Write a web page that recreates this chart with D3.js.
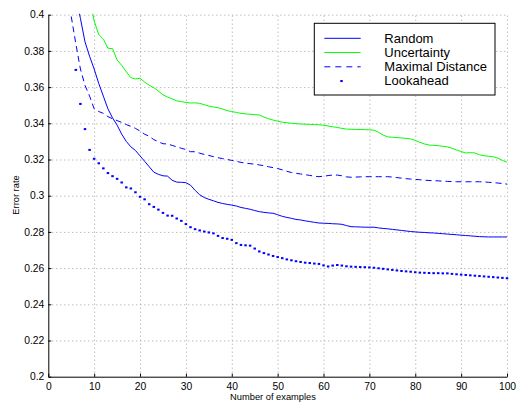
<html>
<meta charset="utf-8" />
<head>
<title>Error rate vs number of examples</title>
<script src="https://cdn.jsdelivr.net/npm/d3@7/dist/d3.min.js"></script>
<style>
	body { margin: 0; background: #fff; }
	svg text { font-family: "Liberation Sans", Arial, Helvetica, sans-serif; fill: #000; }
</style>
<script>
// x ticks / y ticks
const xTicks = [0, 10, 20, 30, 40, 50, 60, 70, 80, 90, 100];
const yTicks = [0.2, 0.22, 0.24, 0.26, 0.28, 0.3, 0.32, 0.34, 0.36, 0.38, 0.4];

// series names (legend order)
const seriesNames = ['Random', 'Uncertainty', 'Maximal Distance', 'Lookahead'];

// Random : x = 6 .. 100
const randomStart = 6;
const randomValues = [
	0.41, 0.398, 0.385, 0.377, 0.370, 0.362, 0.355, 0.348, 0.343, 0.339,
	0.334, 0.330, 0.327, 0.325, 0.322, 0.319, 0.316, 0.313, 0.3118, 0.311,
	0.3108, 0.3085, 0.3075, 0.3074, 0.3072, 0.3058, 0.303, 0.3005, 0.299, 0.298,
	0.2972, 0.2963, 0.2957, 0.2952, 0.2948, 0.2943, 0.2935, 0.293, 0.2925, 0.2918,
	0.2912, 0.2908, 0.2905, 0.2903, 0.2895, 0.2886, 0.288, 0.2875, 0.2869, 0.2866,
	0.2861, 0.2857, 0.2853, 0.2849, 0.2848, 0.2847, 0.2845, 0.2844, 0.2842, 0.2835,
	0.2829, 0.2828, 0.2827, 0.2826, 0.2826, 0.2826, 0.2822, 0.2819, 0.2817, 0.2814,
	0.2811, 0.2808, 0.2805, 0.2802, 0.28, 0.2798, 0.2797, 0.2795, 0.2794, 0.2792,
	0.279, 0.2788, 0.2786, 0.2784, 0.2782, 0.278, 0.2778, 0.2776, 0.2774, 0.2773,
	0.2772, 0.2772, 0.2772, 0.2772, 0.2772
];

// Uncertainty : x = 9 .. 100
const uncertaintyStart = 9;
const uncertaintyValues = [
	0.41, 0.3965, 0.389, 0.3865, 0.3815, 0.3812, 0.375, 0.372, 0.3685, 0.3652,
	0.3645, 0.3649, 0.3628, 0.361, 0.3597, 0.3578, 0.3558, 0.3545, 0.3535, 0.3524,
	0.352, 0.3515, 0.3512, 0.3513, 0.351, 0.3503, 0.3495, 0.349, 0.3486, 0.3479,
	0.347, 0.3465, 0.346, 0.3455, 0.3452, 0.345, 0.3448, 0.3446, 0.3435, 0.3425,
	0.3418, 0.3412, 0.3406, 0.3403, 0.34, 0.3398, 0.3396, 0.3395, 0.3394, 0.3393,
	0.3392, 0.3389, 0.3385, 0.3381, 0.3377, 0.3372, 0.3368, 0.3367, 0.3366, 0.3366,
	0.3365, 0.3364, 0.3362, 0.335, 0.3335, 0.3325, 0.3323, 0.3321, 0.3319, 0.3317,
	0.3314, 0.3305, 0.3295, 0.3286, 0.328, 0.3278, 0.3276, 0.3273, 0.327, 0.3262,
	0.3253, 0.3244, 0.3236, 0.3238, 0.3236, 0.3226, 0.3221, 0.3218, 0.3215, 0.3208,
	0.3195, 0.3185
];

// Maximal Distance : x = 5 .. 100
const maxDistStart = 5;
const maxDistValues = [
	0.399, 0.384, 0.370, 0.361, 0.355, 0.348, 0.3465, 0.3455, 0.3437, 0.3425,
	0.3415, 0.3405, 0.3393, 0.3383, 0.3372, 0.3357, 0.334, 0.3328, 0.331, 0.3298,
	0.3287, 0.3286, 0.3278, 0.327, 0.3262, 0.3255, 0.3243, 0.3243, 0.3235, 0.3228,
	0.3222, 0.3216, 0.321, 0.3205, 0.32, 0.3195, 0.319, 0.3184, 0.318, 0.3177,
	0.3174, 0.317, 0.3166, 0.316, 0.3155, 0.315, 0.3143, 0.3135, 0.3128, 0.3124,
	0.312, 0.3116, 0.3112, 0.3108, 0.3105, 0.3108, 0.3111, 0.3114, 0.3114, 0.311,
	0.3104, 0.3102, 0.3103, 0.3104, 0.3105, 0.3105, 0.3105, 0.3105, 0.3105, 0.3105,
	0.3103, 0.31, 0.3097, 0.3094, 0.3092, 0.309, 0.3088, 0.3086, 0.3084, 0.3083,
	0.3082, 0.308, 0.3079, 0.3078, 0.3077, 0.3077, 0.3077, 0.3077, 0.3077, 0.3077,
	0.3076, 0.3074, 0.3072, 0.307, 0.3067, 0.3064
];

// Lookahead : x = 6 .. 100
const lookaheadStart = 6;
const lookaheadValues = [
	0.3695, 0.3507, 0.3368, 0.3253, 0.3204, 0.3179, 0.3151, 0.3125, 0.3108, 0.3093,
	0.3073, 0.3046, 0.304, 0.3019, 0.2994, 0.298, 0.2953, 0.2938, 0.2923, 0.2905,
	0.289, 0.2889, 0.2874, 0.2861, 0.2843, 0.2826, 0.2815, 0.2808, 0.2802, 0.2797,
	0.2792, 0.2778, 0.2766, 0.2762, 0.2756, 0.2738, 0.2728, 0.2726, 0.2724, 0.2708,
	0.2692, 0.2683, 0.2675, 0.2667, 0.2661, 0.2655, 0.2648, 0.2643, 0.2638, 0.2634,
	0.263, 0.2628, 0.2625, 0.2623, 0.2615, 0.2609, 0.2614, 0.2617, 0.2614, 0.261,
	0.2608, 0.2607, 0.2606, 0.2605, 0.2604, 0.2602, 0.2599, 0.2596, 0.2593, 0.259,
	0.2587, 0.2584, 0.2582, 0.258, 0.2577, 0.2575, 0.2574, 0.2573, 0.2572, 0.2572,
	0.2571, 0.2571, 0.2568, 0.2566, 0.2564, 0.2562, 0.256, 0.2558, 0.2556, 0.2554,
	0.2552, 0.255, 0.2548, 0.2546, 0.2544
];

window.onload = function() {
	let left = 48.3, right = 507, top = 14.7, bottom = 376.7;
	let svg = d3.select('svg');

	let xScale = d3.scaleLinear().domain([0, 100]).range([left, right]);
	let yScale = d3.scaleLinear().domain([0.2, 0.4]).range([bottom, top]);

	// (value array, start x) -> [{x, y}]
	function toPoints(values, start) {
		return values.map((v, i) => { return { x: start + i, y: v }; });
	}

	// 점선 그리드
	svg.append('g')
	.attr('transform', 'translate(0,' + bottom + ')')
	.call(d3.axisBottom(xScale).tickValues(xTicks.slice(1)).tickSize(-(bottom - top)).tickFormat(''))
	.call((g) => { g.select('.domain').remove(); })
	.selectAll('line')
	.attr('stroke', '#a0a0a0').attr('stroke-dasharray', '1,3');

	svg.append('g')
	.attr('transform', 'translate(' + left + ',0)')
	.call(d3.axisLeft(yScale).tickValues(yTicks.slice(1)).tickSize(-(right - left)).tickFormat(''))
	.call((g) => { g.select('.domain').remove(); })
	.selectAll('line')
	.attr('stroke', '#a0a0a0').attr('stroke-dasharray', '1,3');

	// 축
	let xAxis = svg.append('g')
	.attr('transform', 'translate(0,' + bottom + ')')
	.call(d3.axisBottom(xScale).tickValues(xTicks).tickSizeInner(-3).tickSizeOuter(0).tickPadding(5.5));
	xAxis.selectAll('text').style('font-size', '10.3px');

	let yAxis = svg.append('g')
	.attr('transform', 'translate(' + left + ',0)')
	.call(d3.axisLeft(yScale).tickValues(yTicks).tickSizeInner(-3).tickSizeOuter(0).tickPadding(4)
		.tickFormat((d) => { return d3.format('')(+d.toFixed(2)); }));
	yAxis.selectAll('text').style('font-size', '10.3px');

	svg.selectAll('.domain, .tick line').filter(function() { return !d3.select(this).attr('stroke-dasharray'); })
	.attr('stroke', '#000');

	// clip
	svg.append('clipPath').attr('id', 'plotClip')
	.append('rect').attr('x', left).attr('y', top - 1).attr('width', right - left + 2).attr('height', bottom - top + 1);

	let plot = svg.append('g').attr('clip-path', 'url(#plotClip)');

	let line = d3.line()
	.x((d) => { return xScale(d.x); })
	.y((d) => { return yScale(d.y); });

	plot.append('path')
	.attr('d', line(toPoints(randomValues, randomStart)))
	.attr('fill', 'none').attr('stroke', '#0000ff').attr('stroke-width', 1);

	plot.append('path')
	.attr('d', line(toPoints(uncertaintyValues, uncertaintyStart)))
	.attr('fill', 'none').attr('stroke', '#00ff00').attr('stroke-width', 1);

	plot.append('path')
	.attr('d', line(toPoints(maxDistValues, maxDistStart)))
	.attr('fill', 'none').attr('stroke', '#0000ff').attr('stroke-width', 1)
	.attr('stroke-dasharray', '6,4');

	plot.selectAll('rect.lookahead')
	.data(toPoints(lookaheadValues, lookaheadStart)).enter()
	.append('rect')
	.attr('class', 'lookahead')
	.attr('x', (d) => { return xScale(d.x) - 1.25; })
	.attr('y', (d) => { return yScale(d.y) - 1; })
	.attr('width', 2.5).attr('height', 2)
	.attr('fill', '#0000ff');

	// 축 제목
	svg.append('text')
	.attr('x', 273).attr('y', 400)
	.attr('text-anchor', 'middle').style('font-size', '9.3px')
	.text('Number of examples');

	svg.append('text')
	.attr('transform', 'translate(19,195) rotate(-90)')
	.attr('text-anchor', 'middle').style('font-size', '9.3px')
	.text('Error rate');

	// 범례
	let legend = svg.append('g');
	legend.append('rect')
	.attr('x', 314.3).attr('y', 23.3).attr('width', 180.7).attr('height', 71.7)
	.attr('fill', '#fff').attr('stroke', '#000').attr('stroke-width', 1);

	let legendStyles = [
		{ color: '#0000ff', dash: null, dot: false },
		{ color: '#00ff00', dash: null, dot: false },
		{ color: '#0000ff', dash: '6,5', dot: false },
		{ color: '#0000ff', dash: null, dot: true }
	];

	seriesNames.forEach((name, i) => {
		let cy = 38.3 + i * 14.25;
		let s = legendStyles[i];
		if (s.dot) {
			legend.append('rect')
			.attr('x', 341.5 - 1.25).attr('y', cy - 1).attr('width', 2.5).attr('height', 2)
			.attr('fill', s.color);
		} else {
			legend.append('line')
			.attr('x1', 324.3).attr('x2', 360.7).attr('y1', cy).attr('y2', cy)
			.attr('stroke', s.color).attr('stroke-width', 1)
			.attr('stroke-dasharray', s.dash);
		}
		legend.append('text')
		.attr('x', 384.3).attr('y', cy + 4.4)
		.style('font-size', '13px')
		.text(name);
	});
};
</script>
</head>
<body>
<svg width="525" height="403"></svg>
</body>
</html>
